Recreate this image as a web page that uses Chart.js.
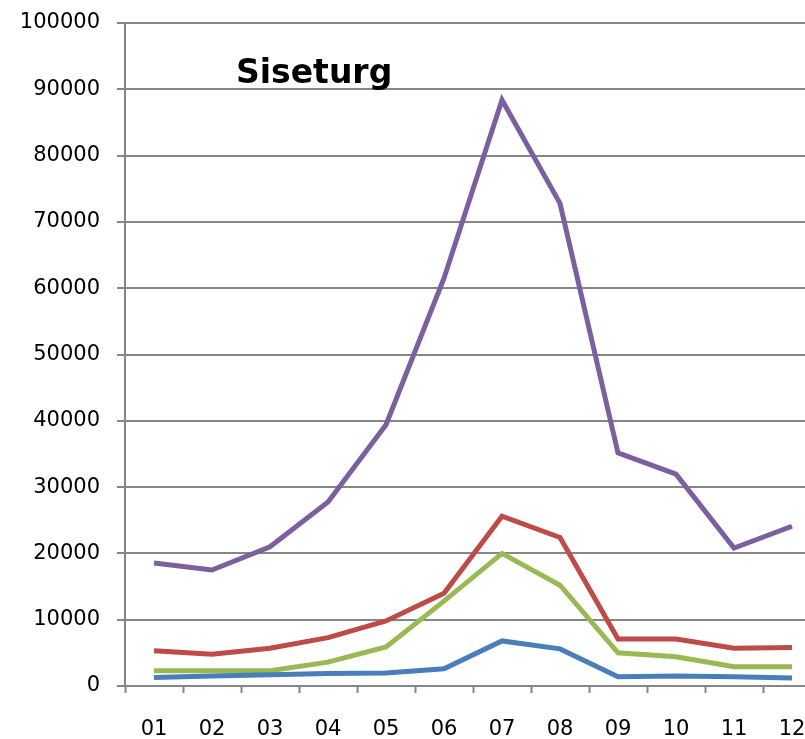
<!DOCTYPE html>
<html>
<head>
<meta charset="utf-8">
<script src="https://cdn.jsdelivr.net/npm/chart.js@4"></script>
<style>
  html, body { margin: 0; padding: 0; background: #fff; overflow: hidden; }
  #wrap { width: 830px; height: 739px; }
</style>
</head>
<body>
<div id="wrap"><canvas id="myChart" width="830" height="739"></canvas></div>
<script>
const months = ['01', '02', '03', '04', '05', '06', '07', '08', '09', '10', '11', '12'];
const purple = [18550, 17500, 21000, 27750, 39400, 61500, 88400, 72800, 35150, 31950, 20800, 24100];
const red    = [5300, 4800, 5700, 7300, 9800, 14000, 25600, 22400, 7100, 7100, 5700, 5800];
const green  = [2300, 2300, 2300, 3600, 5900, 12800, 20000, 15200, 5000, 4400, 2900, 2900];
const blue   = [1300, 1500, 1700, 1900, 1950, 2600, 6800, 5600, 1400, 1500, 1400, 1200];
const yTicks = [0, 10000, 20000, 30000, 40000, 50000, 60000, 70000, 80000, 90000, 100000];
const title = 'Siseturg';

const gridGrey = '#868686';
const font = { family: 'DejaVu Sans', size: 21 };

// title sits inside the plot, near the top left
const titlePlugin = {
  id: 'innerTitle',
  afterDraw(chart) {
    const c = chart.ctx;
    c.save();
    c.font = 'bold 33px "DejaVu Sans"';
    c.fillStyle = '#000';
    c.textBaseline = 'alphabetic';
    c.fillText(title, chart.chartArea.left + 111, 83);
    c.restore();
  }
};

function line(data, color) {
  return {
    data: data,
    borderColor: color,
    backgroundColor: color,
    borderWidth: 5,
    pointRadius: 0,
    tension: 0,
    fill: false
  };
}

const ctx = document.getElementById('myChart');
new Chart(ctx, {
  type: 'line',
  data: {
    labels: months,
    datasets: [
      line(blue, '#4A7EBB'),
      line(green, '#98B954'),
      line(red, '#BE4B48'),
      line(purple, '#7D5FA0')
    ]
  },
  options: {
    responsive: false,
    animation: false,
    layout: { padding: { top: 23, right: 9, left: 0, bottom: 0 } },
    plugins: {
      legend: { display: false },
      tooltip: { enabled: false }
    },
    scales: {
      x: {
        offset: true,
        grid: {
          offset: true,
          drawOnChartArea: false,
          drawTicks: true,
          tickLength: 7,
          tickWidth: 2,
          tickColor: gridGrey
        },
        border: { display: true, color: gridGrey, width: 2 },
        ticks: { color: '#000', font: font, padding: 24, maxRotation: 0, autoSkip: false },
        afterFit(scale) { scale.height = 53; }
      },
      y: {
        min: 0,
        max: 100000,
        afterBuildTicks(scale) { scale.ticks = yTicks.map(v => ({ value: v })); },
        grid: {
          color: gridGrey,
          lineWidth: 2,
          drawTicks: true,
          tickLength: 8,
          tickColor: gridGrey
        },
        border: { display: true, color: gridGrey, width: 2 },
        ticks: { color: '#000', font: font, padding: 17, callback: v => String(v) },
        afterFit(scale) {
          scale.width = 125;
          scale.paddingTop = 0;
          scale.paddingBottom = 0;
        }
      }
    }
  },
  plugins: [titlePlugin]
});
</script>
</body>
</html>
